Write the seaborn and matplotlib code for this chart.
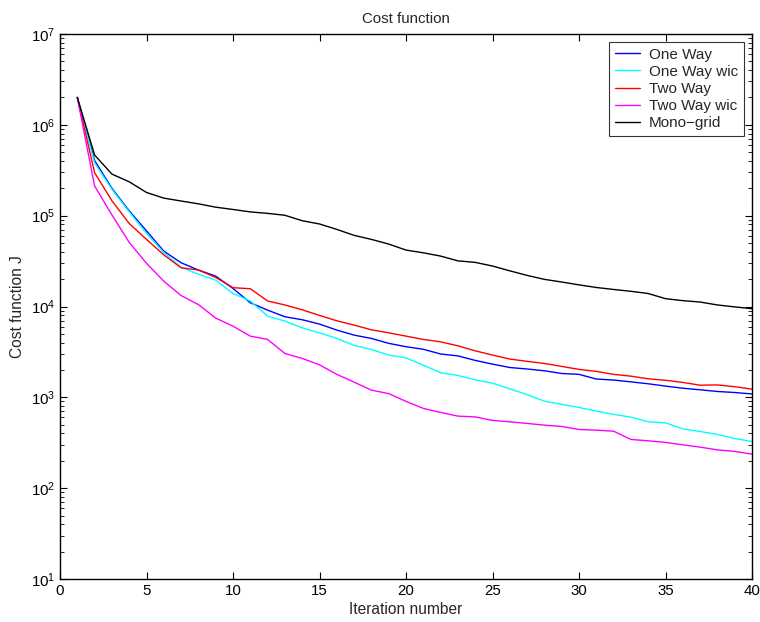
import numpy as np
import pandas as pd
import matplotlib
matplotlib.use("Agg")
import matplotlib.pyplot as plt
import seaborn as sns

# iteration numbers and cost values
iterations = list(range(1, 41))

one_way = [2.0e6, 4.05e5, 2.0e5, 1.13e5, 6.8e4, 4.07e4, 3.03e4, 2.52e4, 2.16e4, 1.58e4,
           1.10e4, 9.12e3, 7.71e3, 7.15e3, 6.40e3, 5.50e3, 4.84e3, 4.45e3, 3.93e3, 3.61e3,
           3.38e3, 3.0e3, 2.86e3, 2.55e3, 2.32e3, 2.13e3, 2.05e3, 1.96e3, 1.83e3, 1.79e3,
           1.59e3, 1.55e3, 1.48e3, 1.41e3, 1.33e3, 1.26e3, 1.21e3, 1.16e3, 1.13e3, 1.09e3]

one_way_wic = [2.0e6, 3.8e5, 1.95e5, 1.1e5, 6.4e4, 3.91e4, 2.7e4, 2.27e4, 1.95e4, 1.39e4,
               1.15e4, 7.83e3, 6.91e3, 5.82e3, 5.13e3, 4.45e3, 3.73e3, 3.37e3, 2.92e3, 2.72e3,
               2.26e3, 1.87e3, 1.74e3, 1.56e3, 1.43e3, 1.24e3, 1.07e3, 908, 836, 774,
               705, 649, 606, 538, 524, 450, 421, 390, 352, 326]

two_way = [2.0e6, 2.97e5, 1.46e5, 8.2e4, 5.48e4, 3.7e4, 2.67e4, 2.52e4, 2.09e4, 1.61e4,
           1.57e4, 1.15e4, 1.04e4, 9.2e3, 7.98e3, 6.96e3, 6.24e3, 5.54e3, 5.13e3, 4.72e3,
           4.34e3, 4.08e3, 3.69e3, 3.25e3, 2.92e3, 2.64e3, 2.49e3, 2.36e3, 2.19e3, 2.03e3,
           1.93e3, 1.79e3, 1.71e3, 1.60e3, 1.54e3, 1.46e3, 1.36e3, 1.37e3, 1.31e3, 1.23e3]

two_way_wic = [2.0e6, 2.12e5, 1.02e5, 5.08e4, 2.99e4, 1.9e4, 1.32e4, 1.05e4, 7.45e3, 6.08e3,
               4.72e3, 4.34e3, 3.04e3, 2.68e3, 2.28e3, 1.79e3, 1.47e3, 1.20e3, 1.10e3, 902,
               755, 682, 621, 609, 557, 538, 516, 494, 478, 443,
               435, 424, 344, 332, 319, 300, 283, 264, 254, 237]

mono_grid = [2.0e6, 4.65e5, 2.87e5, 2.36e5, 1.8e5, 1.56e5, 1.45e5, 1.35e5, 1.24e5, 1.17e5,
             1.10e5, 1.06e5, 1.01e5, 8.8e4, 8.1e4, 7.06e4, 6.07e4, 5.48e4, 4.87e4, 4.18e4,
             3.90e4, 3.59e4, 3.18e4, 3.06e4, 2.79e4, 2.47e4, 2.20e4, 1.99e4, 1.86e4, 1.73e4,
             1.62e4, 1.54e4, 1.47e4, 1.39e4, 1.22e4, 1.16e4, 1.12e4, 1.04e4, 9.9e3, 9.45e3]

labels = ["One Way", "One Way wic", "Two Way", "Two Way wic", "Mono\u2212grid"]
colors = ["#0000ff", "#00ffff", "#ff0000", "#ff00ff", "#000000"]

# long-form table for seaborn
frames = []
for name, vals in zip(labels, [one_way, one_way_wic, two_way, two_way_wic, mono_grid]):
    frames.append(pd.DataFrame({"Iteration": iterations, "J": vals, "Method": name}))
df = pd.concat(frames, ignore_index=True)

sns.set_style("ticks")
plt.rcParams["font.family"] = ["Liberation Sans", "DejaVu Sans"]
plt.rcParams["mathtext.fontset"] = "custom"
plt.rcParams["mathtext.rm"] = "Liberation Sans"
plt.rcParams["mathtext.it"] = "Liberation Sans:italic"

fig = plt.figure(figsize=(7.6, 6.22), dpi=100)
ax = fig.add_axes([60 / 760, 1 - 579 / 622, 692 / 760, 545 / 622])

sns.lineplot(data=df, x="Iteration", y="J", hue="Method",
             palette=dict(zip(labels, colors)), hue_order=labels,
             linewidth=1.0, ax=ax)

ax.set_yscale("log")
ax.set_xlim(0, 40)
ax.set_ylim(1e1, 1e7)
ax.set_xticks(range(0, 41, 5))

ax.tick_params(which="both", direction="in", top=True, right=True,
               labelsize=10.8, colors="black")
ax.tick_params(which="major", length=5, width=0.8)
ax.tick_params(which="minor", length=3, width=0.6)
for s in ax.spines.values():
    s.set_linewidth(1.0)
    s.set_color("black")

ax.set_title("Cost function", fontsize=10.8, pad=8)
ax.set_xlabel("Iteration number", fontsize=11.2, labelpad=3)
ax.set_ylabel("Cost function J", fontsize=11.2, labelpad=4)

leg = ax.legend(loc="upper right", bbox_to_anchor=(0.988, 0.985), borderaxespad=0,
                fontsize=11, frameon=True, fancybox=False, handlelength=1.65,
                labelspacing=0.21, borderpad=0.35, handletextpad=0.6)
leg.get_frame().set_edgecolor("black")
leg.get_frame().set_linewidth(0.8)

fig.savefig("out.png", dpi=100)
